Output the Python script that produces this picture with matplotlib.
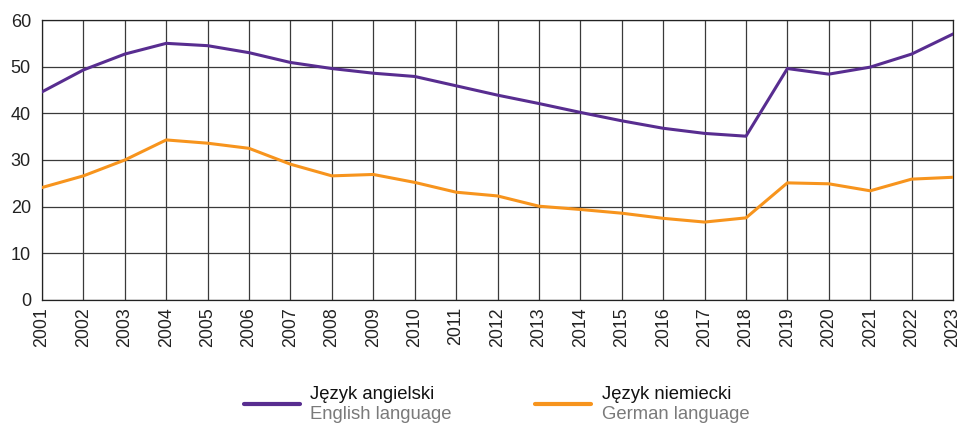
import matplotlib
matplotlib.use("Agg")
import matplotlib.pyplot as plt
from matplotlib.lines import Line2D

plt.rcParams['font.family'] = ['Liberation Sans', 'DejaVu Sans']

# data
years = list(range(2001, 2024))
english = [44.6, 49.3, 52.7, 55.0, 54.5, 53.0, 50.9, 49.6, 48.6, 47.9, 45.9, 43.9,
           42.1, 40.2, 38.4, 36.8, 35.7, 35.1, 49.6, 48.4, 49.9, 52.7, 57.0]
german = [24.1, 26.6, 30.0, 34.3, 33.6, 32.5, 29.1, 26.6, 26.9, 25.2, 23.1, 22.3,
          20.1, 19.4, 18.6, 17.5, 16.7, 17.6, 25.1, 24.9, 23.4, 25.9, 26.3]
labels_pl = ['Język angielski', 'Język niemiecki']
labels_en = ['English language', 'German language']
colors = ['#582D90', '#F7941D']

fig = plt.figure(figsize=(9.61, 4.23), dpi=100)
ax = fig.add_axes([0.0437, 0.2908, 0.9480, 0.6619])

ax.plot(years, english, color=colors[0], lw=2.2, zorder=3)
ax.plot(years, german, color=colors[1], lw=2.2, zorder=3)

ax.set_xlim(2001, 2023)
ax.set_ylim(0, 60)
ax.set_xticks(years)
ax.set_xticklabels([str(y) for y in years], rotation=90, fontsize=12.8, color='#222222')
ax.set_yticks(range(0, 61, 10))
ax.tick_params(axis='y', labelsize=13, colors='#222222', length=0, pad=8)
ax.tick_params(axis='x', length=0, pad=5)
ax.grid(True, color='#3a3a3a', lw=0.9, zorder=1)
for s in ax.spines.values():
    s.set_color('#222222')
    s.set_linewidth(0.9)

# legend drawn manually
legend_x = [0.254, 0.557]
for i in range(2):
    x0 = legend_x[i]
    fig.add_artist(Line2D([x0, x0 + 0.058], [0.045, 0.045], transform=fig.transFigure,
                          color=colors[i], lw=3, solid_capstyle='round'))
    fig.text(x0 + 0.069, 0.068, labels_pl[i], fontsize=13.3, color='#111111', va='center')
    fig.text(x0 + 0.069, 0.020, labels_en[i], fontsize=13.3, color='#7a7a7a', va='center')

plt.savefig('out.png', dpi=100, facecolor='white')
